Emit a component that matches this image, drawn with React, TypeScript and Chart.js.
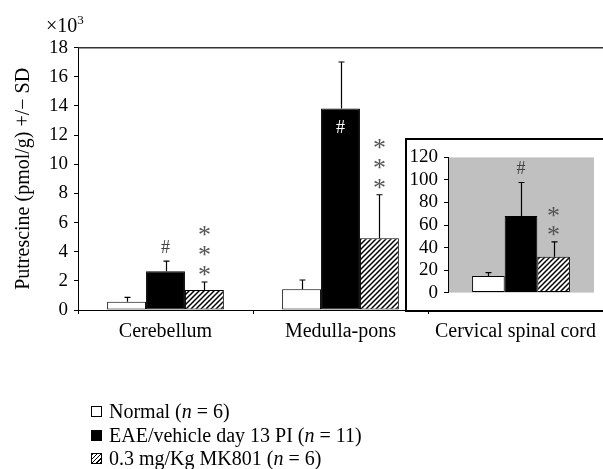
import React, { useEffect, useRef } from "react";
import { Chart, registerables } from "chart.js";

Chart.register(...registerables);

// ---- data ----
const categories = ["Cerebellum", "Medulla-pons", "Cervical spinal cord"];
const normalMean = [0.57, 1.42, null];
const normalSD = [0.3, 0.64, null];
const eaeMean = [2.66, 13.82, null];
const eaeSD = [0.7, 3.2, null];
const mkMean = [1.37, 4.92, null];
const mkSD = [0.55, 2.99, null];
const eaeMarks = ["#", "#", ""];
const eaeMarkInside = [false, true, false];
const mkMarks = ["***", "***", ""];

const insetCategories = ["Cervical spinal cord"];
const insetNormal = [14.8];
const insetNormalSD = [2.9];
const insetEae = [67.9];
const insetEaeSD = [29.8];
const insetMk = [31.9];
const insetMkSD = [13.2];
const insetEaeMarks = ["#"];
const insetMkMarks = ["**"];

const mainMax = 18;
const mainStep = 2;
const insetMax = 120;
const insetStep = 20;

const seriesNames = ["Normal", "EAE/vehicle day 13 PI", "0.3 mg/Kg MK801"];
const seriesN = [6, 11, 6];
const yTitle = "Putrescine (pmol/g) +/\u2212 SD";

const SERIF = "'Liberation Serif', 'Times New Roman', serif";

function makeHatch(ctx: CanvasRenderingContext2D): CanvasPattern {
  const s = 5;
  const c = document.createElement("canvas");
  c.width = s;
  c.height = s;
  const g = c.getContext("2d")!;
  g.fillStyle = "#fff";
  g.fillRect(0, 0, s, s);
  g.strokeStyle = "#000";
  g.lineWidth = 1.5;
  g.beginPath();
  g.moveTo(-1, s + 1);
  g.lineTo(s + 1, -1);
  g.moveTo(-1, 1);
  g.lineTo(1, -1);
  g.moveTo(s - 1, s + 1);
  g.lineTo(s + 1, s - 1);
  g.stroke();
  return ctx.createPattern(c, "repeat")!;
}

function errorBarPlugin(sds: (number | null)[][]) {
  return {
    id: "errorBars",
    afterDatasetsDraw(chart: any) {
      const ctx = chart.ctx as CanvasRenderingContext2D;
      const y = chart.scales.y;
      ctx.save();
      ctx.strokeStyle = "#000";
      ctx.lineWidth = 1.2;
      chart.data.datasets.forEach((ds: any, i: number) => {
        const meta = chart.getDatasetMeta(i);
        meta.data.forEach((el: any, j: number) => {
          const v = ds.data[j];
          const sd = sds[i][j];
          if (v == null || sd == null) return;
          const top = y.getPixelForValue(v + sd);
          const x = Math.round(el.x) + 0.5;
          ctx.beginPath();
          ctx.moveTo(x, el.y);
          ctx.lineTo(x, top);
          ctx.moveTo(x - 3, top);
          ctx.lineTo(x + 3, top);
          ctx.stroke();
        });
      });
      ctx.restore();
    },
  };
}

type MarkSpec = {
  dataset: number;
  marks: string[];
  sds: (number | null)[];
  inside?: boolean[];
};

function marksPlugin(specs: MarkSpec[], gap: number, spacing: number) {
  return {
    id: "marks",
    afterDatasetsDraw(chart: any) {
      const ctx = chart.ctx as CanvasRenderingContext2D;
      const y = chart.scales.y;
      ctx.save();
      ctx.textAlign = "center";
      specs.forEach((spec) => {
        const ds = chart.data.datasets[spec.dataset];
        const meta = chart.getDatasetMeta(spec.dataset);
        meta.data.forEach((el: any, j: number) => {
          const m = spec.marks[j];
          const v = ds.data[j];
          if (!m || v == null) return;
          const inside = spec.inside ? spec.inside[j] : false;
          if (inside) {
            ctx.textBaseline = "middle";
            ctx.fillStyle = "#fff";
            ctx.font = `18px ${SERIF}`;
            ctx.fillText(m, el.x, el.y + 20);
            return;
          }
          const top = y.getPixelForValue(v + (spec.sds[j] || 0));
          for (let k = 0; k < m.length; k++) {
            const ch = m[k];
            const cy = top - gap - k * spacing;
            if (ch === "*") {
              ctx.textBaseline = "alphabetic";
              ctx.fillStyle = "#555";
              ctx.font = `26px ${SERIF}`;
              ctx.fillText("*", el.x, cy + 26 * 0.55);
            } else {
              ctx.textBaseline = "middle";
              ctx.fillStyle = "#444";
              ctx.font = `18px ${SERIF}`;
              ctx.fillText(ch, el.x, cy);
            }
          }
        });
      });
      ctx.restore();
    },
  };
}

const topLinePlugin = {
  id: "topLine",
  afterDraw(chart: any) {
    const { ctx, chartArea } = chart;
    ctx.save();
    ctx.strokeStyle = "#333";
    ctx.lineWidth = 1.5;
    ctx.beginPath();
    ctx.moveTo(chartArea.left, chartArea.top);
    ctx.lineTo(chart.width, chartArea.top);
    ctx.stroke();
    ctx.restore();
  },
};

const grayAreaPlugin = {
  id: "grayArea",
  beforeDraw(chart: any) {
    const { ctx, chartArea } = chart;
    ctx.save();
    ctx.fillStyle = "#fff";
    ctx.fillRect(0, 0, chart.width, chart.height);
    ctx.fillStyle = "#c0c0c0";
    ctx.fillRect(
      chartArea.left,
      chartArea.top,
      chartArea.right - chartArea.left,
      chartArea.bottom - chartArea.top
    );
    ctx.restore();
  },
};

export default function App() {
  const mainRef = useRef<HTMLCanvasElement>(null);
  const insetRef = useRef<HTMLCanvasElement>(null);

  useEffect(() => {
    const mctx = mainRef.current!.getContext("2d")!;
    const ictx = insetRef.current!.getContext("2d")!;
    const hatchM = makeHatch(mctx);
    const hatchI = makeHatch(ictx);

    const barCommon = {
      borderColor: "#000",
      borderWidth: 1,
      borderSkipped: false as const,
      barPercentage: 1,
    };

    const main = new Chart(mainRef.current!, {
      type: "bar",
      data: {
        labels: categories,
        datasets: [
          { ...barCommon, label: seriesNames[0], data: normalMean, backgroundColor: "#fff", categoryPercentage: 0.667 },
          { ...barCommon, label: seriesNames[1], data: eaeMean, backgroundColor: "#000", categoryPercentage: 0.667 },
          { ...barCommon, label: seriesNames[2], data: mkMean, backgroundColor: hatchM as any, categoryPercentage: 0.667 },
        ],
      },
      options: {
        animation: false,
        responsive: false,
        maintainAspectRatio: false,
        layout: { padding: { top: 47.7, right: 0, left: 0, bottom: 0 } },
        plugins: { legend: { display: false }, tooltip: { enabled: false } },
        scales: {
          x: {
            type: "category",
            offset: true,
            grid: { offset: true, drawOnChartArea: false, drawTicks: true, tickLength: 4, color: "#000" },
            border: { display: true, color: "#000", width: 1 },
            ticks: { font: { family: SERIF, size: 20 }, color: "#000", padding: 6, maxRotation: 0, autoSkip: false },
            afterFit: (s: any) => {
              s.height = 159;
              s.paddingLeft = 0;
              s.paddingRight = 0;
            },
          },
          y: {
            min: 0,
            max: mainMax,
            ticks: { stepSize: mainStep, autoSkip: false, font: { family: SERIF, size: 19 }, color: "#000", padding: 6 },
            grid: { drawOnChartArea: false, drawTicks: true, tickLength: 4, color: "#000" },
            border: { display: true, color: "#000", width: 1 },
            title: {
              display: true,
              text: yTitle,
              font: { family: SERIF, size: 20 },
              color: "#000",
              padding: { top: 12, bottom: 0 },
            },
            afterFit: (s: any) => {
              s.width = 78;
            },
          },
        },
      } as any,
      plugins: [
        errorBarPlugin([normalSD, eaeSD, mkSD]),
        marksPlugin(
          [
            { dataset: 1, marks: eaeMarks, sds: eaeSD, inside: eaeMarkInside },
            { dataset: 2, marks: mkMarks, sds: mkSD },
          ],
          13,
          20
        ),
        topLinePlugin,
      ],
    });

    const inset = new Chart(insetRef.current!, {
      type: "bar",
      data: {
        labels: insetCategories,
        datasets: [
          { ...barCommon, label: seriesNames[0], data: insetNormal, backgroundColor: "#fff", categoryPercentage: 0.67 },
          { ...barCommon, label: seriesNames[1], data: insetEae, backgroundColor: "#000", categoryPercentage: 0.67 },
          { ...barCommon, label: seriesNames[2], data: insetMk, backgroundColor: hatchI as any, categoryPercentage: 0.67 },
        ],
      },
      options: {
        animation: false,
        responsive: false,
        maintainAspectRatio: false,
        layout: { padding: { top: 17, right: 9, left: 0, bottom: 17.3 } },
        plugins: { legend: { display: false }, tooltip: { enabled: false } },
        scales: {
          x: { type: "category", offset: true, display: false },
          y: {
            min: 0,
            max: insetMax,
            ticks: { stepSize: insetStep, autoSkip: false, font: { family: SERIF, size: 19 }, color: "#000", padding: 6 },
            grid: { drawOnChartArea: false, drawTicks: true, tickLength: 4, color: "#000" },
            border: { display: true, color: "#000", width: 1 },
            afterFit: (s: any) => {
              s.width = 41;
            },
          },
        },
      } as any,
      plugins: [
        grayAreaPlugin,
        errorBarPlugin([insetNormalSD, insetEaeSD, insetMkSD]),
        marksPlugin(
          [
            { dataset: 1, marks: insetEaeMarks, sds: insetEaeSD },
            { dataset: 2, marks: insetMkMarks, sds: insetMkSD },
          ],
          13,
          19.5
        ),
      ],
    });

    return () => {
      main.destroy();
      inset.destroy();
    };
  }, []);

  const iconStyles: React.CSSProperties[] = [
    { background: "#fff" },
    { background: "#000" },
    {
      background:
        "repeating-linear-gradient(135deg, #000 0px, #000 1px, #fff 1px, #fff 3px)",
    },
  ];

  return (
    <div style={{ position: "absolute", left: 0, top: 0, width: 603, height: 469, background: "#fff", fontFamily: SERIF }}>
      <canvas ref={mainRef} width={603} height={469} style={{ position: "absolute", left: 0, top: 0 }} />
      <div
        style={{
          position: "absolute",
          left: 46,
          top: 15,
          fontSize: 20,
          lineHeight: "20px",
          color: "#000",
          whiteSpace: "nowrap",
        }}
      >
        ×10<span style={{ fontSize: 13, position: "relative", top: -8 }}>3</span>
      </div>
      <div
        style={{
          position: "absolute",
          left: 405,
          top: 138,
          width: 200,
          height: 174,
          boxSizing: "border-box",
          borderLeft: "2px solid #000",
          borderTop: "2px solid #000",
          borderBottom: "2px solid #000",
          background: "#fff",
        }}
      >
        <canvas ref={insetRef} width={196} height={170} style={{ position: "absolute", left: 0, top: 0 }} />
      </div>
      <div style={{ position: "absolute", left: 91, top: 400, fontSize: 20, color: "#000" }}>
        {seriesNames.map((name, i) => (
          <div key={name} style={{ display: "flex", alignItems: "center", height: 23.5, whiteSpace: "nowrap" }}>
            <span
              style={{
                display: "inline-block",
                width: 11,
                height: 11,
                boxSizing: "border-box",
                border: "1px solid #000",
                marginRight: 7,
                ...iconStyles[i],
              }}
            />
            <span>
              {name} (<i>n</i> = {seriesN[i]})
            </span>
          </div>
        ))}
      </div>
    </div>
  );
}
